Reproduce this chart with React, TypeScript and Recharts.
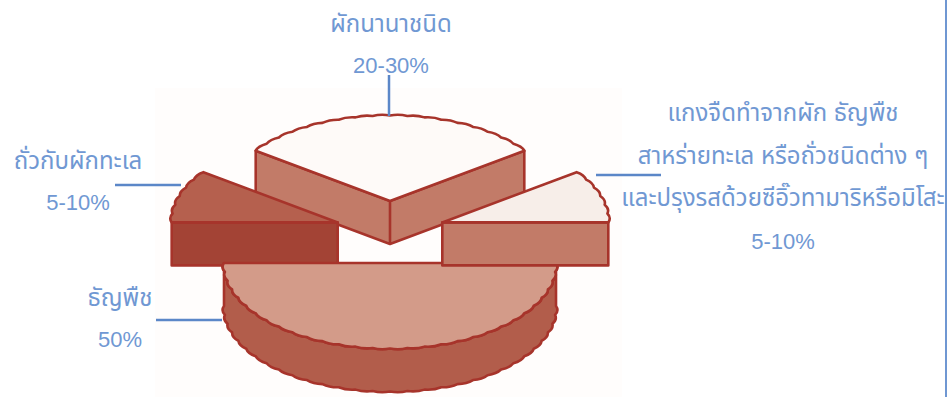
import React from 'react';
import { PieChart, Pie, Cell } from 'recharts';

const categories = [
  'ผักนานาชนิด',
  'ถั่วกับผักทะเล',
  'ธัญพืช',
  'แกงจืด',
];
const shares = [30, 10, 50, 10];
const labelLines = [
  ['ผักนานาชนิด', '20-30%'],
  ['ถั่วกับผักทะเล', '5-10%'],
  ['ธัญพืช', '50%'],
  [
    'แกงจืดทำจากผัก ธัญพืช',
    'สาหร่ายทะเล หรือถั่วชนิดต่าง ๆ',
    'และปรุงรสด้วยซีอิ๊วทามาริหรือมิโสะ',
    '5-10%',
  ],
];

const topColors = ['#fefaf8', '#b5604e', '#d39b89', '#f7eee9'];
const wallColors = ['#c27b68', '#a34335', '#b25d4b', '#c27b68'];
const OUTLINE = '#a7342b';
const TEXT = '#7098d3';
const LEADER = '#5b87c8';
const FONT = '"Liberation Sans", "Noto Sans Thai", sans-serif';

// vertical squash of the disc, wall height and how far slices are pulled out
const SQUASH = 0.515;
const DEPTH = 43;
const EXPLODE_X = 55;
const EXPLODE_Y = 31;

// text anchor x, first baseline y, line spacing
const labelPlacement = [
  { x: 391, y: 32, step: 41 },
  { x: 78, y: 169, step: 41 },
  { x: 120, y: 306, step: 41 },
  { x: 783, y: 121, step: 42.5 },
];
// leader segments as [x1, y1, x2, y2]
const leaders = [
  [389, 75, 389, 116],
  [115, 185, 181, 185],
  [156, 320, 222, 320],
  [596, 175, 661, 175],
];

const rad = (deg: number) => (deg * Math.PI) / 180;

// scalloped rim between two angles, returned as path commands
const rimPath = (cx: number, cy: number, r: number, from: number, to: number) => {
  const steps = Math.max(2, Math.round(Math.abs(to - from) / 6));
  const pt = (a: number, rr: number) => [cx + rr * Math.cos(rad(a)), cy - rr * SQUASH * Math.sin(rad(a))];
  let d = '';
  for (let i = 1; i <= steps; i++) {
    const a = from + ((to - from) * i) / steps;
    const m = from + ((to - from) * (i - 0.5)) / steps;
    const [qx, qy] = pt(m, r + 3.5);
    const [x, y] = pt(a, r);
    d += ` Q ${qx} ${qy} ${x} ${y}`;
  }
  return d;
};

const Slice3D = (props: any) => {
  const { cx, cy, outerRadius: r, midAngle, index } = props;
  const span = props.endAngle - props.startAngle;
  const startAngle = props.startAngle % 360;
  const endAngle = startAngle + span;
  const ox = cx + EXPLODE_X * Math.cos(rad(midAngle));
  const oy = cy - EXPLODE_Y * Math.sin(rad(midAngle));
  const at = (a: number) => [ox + r * Math.cos(rad(a)), oy - r * SQUASH * Math.sin(rad(a))];
  const [sx, sy] = at(startAngle);
  const [ex, ey] = at(endAngle);
  const top = `M ${ox} ${oy} L ${sx} ${sy}${rimPath(ox, oy, r, startAngle, endAngle)} Z`;
  const common = { stroke: OUTLINE, strokeWidth: 2.6, strokeLinejoin: 'round' as const };

  let wall: string;
  if (startAngle >= 180) {
    // lower half: the rim itself is what hangs down
    wall = `M ${sx} ${sy}${rimPath(ox, oy, r, startAngle, endAngle)} L ${ex} ${ey + DEPTH}${rimPath(ox, oy + DEPTH, r, endAngle, startAngle)} Z`;
  } else if (startAngle >= 90 && endAngle <= 180) {
    wall = `M ${ox} ${oy} L ${ex} ${ey} L ${ex} ${ey + DEPTH} L ${ox} ${oy + DEPTH} Z`;
  } else if (endAngle <= 90) {
    wall = `M ${ox} ${oy} L ${sx} ${sy} L ${sx} ${sy + DEPTH} L ${ox} ${oy + DEPTH} Z`;
  } else {
    // slice straddling the back: both cut faces show
    wall = `M ${sx} ${sy} L ${ox} ${oy} L ${ex} ${ey} L ${ex} ${ey + DEPTH} L ${ox} ${oy + DEPTH} L ${sx} ${sy + DEPTH} Z M ${ox} ${oy} L ${ox} ${oy + DEPTH}`;
  }
  return (
    <g>
      <path d={wall} fill={wallColors[index]} {...common} />
      <path d={top} fill={topColors[index]} {...common} />
    </g>
  );
};

const SliceLabel = (props: any) => {
  const { index } = props;
  const place = labelPlacement[index];
  const [x1, y1, x2, y2] = leaders[index];
  return (
    <g>
      <line x1={x1} y1={y1} x2={x2} y2={y2} stroke={LEADER} strokeWidth={2.5} />
      {labelLines[index].map((line, i) => (
        <text
          key={i}
          x={place.x}
          y={place.y + i * place.step}
          textAnchor="middle"
          fill={TEXT}
          fontSize={/%$/.test(line) ? 22 : 24}
          fontFamily={FONT}
        >
          {line}
        </text>
      ))}
    </g>
  );
};

const data = categories.map((name, i) => ({ name, value: shares[i] }));

export default function App() {
  return (
    <div style={{ position: 'absolute', left: 0, top: 0, width: 947, height: 397, background: '#fff', overflow: 'hidden' }}>
      <div style={{ position: 'absolute', left: 155, top: 88, width: 467, height: 309, background: '#fffdfc' }} />
      <div style={{ position: 'absolute', left: 945, top: 0, width: 2, height: 397, background: '#6f97d2' }} />
      <PieChart width={947} height={397} margin={{ top: 0, right: 0, bottom: 0, left: 0 }} style={{ position: 'absolute', left: 0, top: 0 }}>
        <Pie
          data={data}
          dataKey="value"
          nameKey="name"
          cx={390}
          cy={232}
          outerRadius={166}
          startAngle={36}
          endAngle={396}
          stroke="none"
          isAnimationActive={false}
          shape={Slice3D}
          label={SliceLabel}
          labelLine={false}
        >
          {data.map((d) => (
            <Cell key={d.name} />
          ))}
        </Pie>
      </PieChart>
    </div>
  );
}
